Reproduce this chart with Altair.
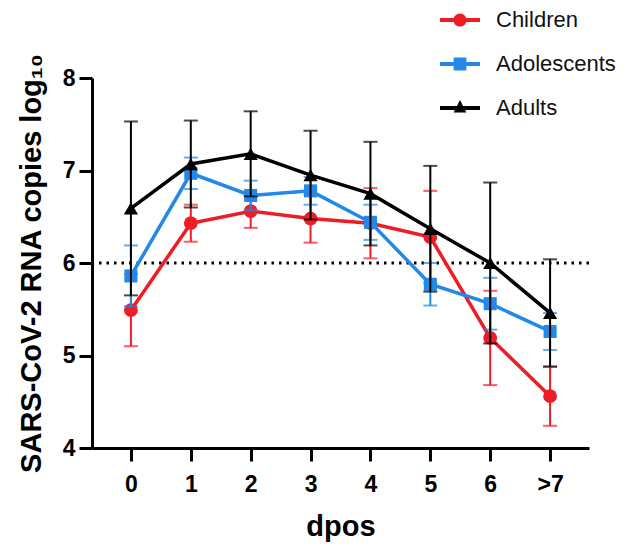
import altair as alt
import pandas as pd

dpos = ["0", "1", "2", "3", "4", "5", "6", ">7"]
series_names = ["Children", "Adolescents", "Adults"]
series_colors = ["#EE1C25", "#2388E8", "#000000"]

children_mean = [5.49, 6.43, 6.56, 6.48, 6.43, 6.28, 5.19, 4.56]
children_err = [0.39, 0.20, 0.18, 0.26, 0.38, 0.50, 0.51, 0.32]
adol_mean = [5.86, 6.97, 6.73, 6.78, 6.44, 5.77, 5.56, 5.26]
adol_err = [0.33, 0.17, 0.16, 0.15, 0.19, 0.23, 0.28, 0.20]
adult_mean = [6.59, 7.07, 7.18, 6.95, 6.75, 6.37, 6.00, 5.46]
adult_err = [0.94, 0.47, 0.46, 0.48, 0.56, 0.68, 0.87, 0.58]

threshold = 6

means = [children_mean, adol_mean, adult_mean]
errs = [children_err, adol_err, adult_err]
shapes = ["circle", "square", "triangle-up"]
sizes = [190, 170, 200]

legend_paths = [
    "M-1,-0.1H1V0.1H-1Z M-0.33,0A0.33,0.33 0 1,1 0.33,0A0.33,0.33 0 1,1 -0.33,0Z",
    "M-1,-0.1H1V0.1H-1Z M-0.32,-0.32H0.32V0.32H-0.32Z",
    "M-1,-0.1H1V0.1H-1Z M0,-0.4L0.32,0.22H-0.32Z",
]

FONT = "Liberation Sans"

xenc = alt.X(
    "dpos:O",
    sort=dpos,
    scale=alt.Scale(type="point", padding=0.65),
    axis=alt.Axis(title="dpos", labelAngle=0, labelPadding=12, titlePadding=16),
)
yscale = alt.Scale(domain=[4, 8], nice=False, zero=False)
yaxis = alt.Axis(
    title="SARS-CoV-2 RNA copies log₁₀",
    values=[4, 5, 6, 7, 8],
    labelPadding=4,
    titlePadding=16,
    grid=False,
)

layers = []

rule_df = pd.DataFrame({"y": [threshold]})
layers.append(
    alt.Chart(rule_df)
    .mark_rule(color="black", strokeWidth=3, strokeDash=[2.5, 5], strokeCap="butt")
    .encode(y=alt.Y("y:Q", scale=yscale, axis=yaxis))
)

for name, col, m, e, shp, sz in zip(series_names, series_colors, means, errs, shapes, sizes):
    df = pd.DataFrame({
        "dpos": dpos,
        "mean": m,
        "lo": [a - b for a, b in zip(m, e)],
        "hi": [a + b for a, b in zip(m, e)],
    })
    base = alt.Chart(df)
    bars = base.mark_rule(color=col, strokeWidth=2).encode(
        x=xenc, y=alt.Y("lo:Q", scale=yscale, axis=yaxis), y2="hi:Q"
    )
    caps = base.transform_fold(["lo", "hi"], as_=["k", "v"]).mark_tick(
        color=col, thickness=2, size=14
    ).encode(x=xenc, y=alt.Y("v:Q", scale=yscale, axis=yaxis))
    line = base.mark_line(color=col, strokeWidth=3.5).encode(
        x=xenc, y=alt.Y("mean:Q", scale=yscale, axis=yaxis)
    )
    pts = base.mark_point(
        color=col, filled=True, opacity=1, shape=shp, size=sz
    ).encode(x=xenc, y=alt.Y("mean:Q", scale=yscale, axis=yaxis))
    layers += [bars, caps, line, pts]

legend_kw = dict(
    title=None,
    orient="none",
    legendX=348,
    legendY=-78,
    symbolSize=1600,
    symbolOpacity=1,
    symbolStrokeWidth=0,
    rowPadding=13,
    labelOffset=16,
    labelFont=FONT,
    labelFontSize=22,
    labelColor="#111111",
    padding=0,
)

leg_df = pd.DataFrame({"dpos": ["0"] * 3, "mean": [6, 6, 6], "series": series_names})
ghost = alt.Chart(leg_df).mark_point(filled=True, opacity=0, size=1).encode(
    x=xenc,
    y=alt.Y("mean:Q", scale=yscale, axis=yaxis),
    color=alt.Color(
        "series:N",
        scale=alt.Scale(domain=series_names, range=series_colors),
        legend=alt.Legend(**legend_kw),
    ),
    shape=alt.Shape(
        "series:N",
        scale=alt.Scale(domain=series_names, range=legend_paths),
        legend=alt.Legend(**legend_kw),
    ),
)
layers.append(ghost)

chart = (
    alt.layer(*layers)
    .properties(
        width=497,
        height=370,
        autosize=alt.AutoSizeParams(type="none"),
        padding={"left": 84, "top": 70, "right": 31, "bottom": 97},
    )
    .configure_view(stroke=None)
    .configure_axis(
        domainColor="black",
        domainWidth=3,
        tickColor="black",
        tickWidth=3,
        tickSize=13,
        labelFont=FONT,
        labelFontSize=23,
        labelFontWeight="bold",
        labelColor="black",
        titleFont=FONT,
        titleFontSize=29,
        titleFontWeight="bold",
        titleColor="black",
    )
)

chart.save("out.html", embed_options={"renderer": "svg", "actions": False})
